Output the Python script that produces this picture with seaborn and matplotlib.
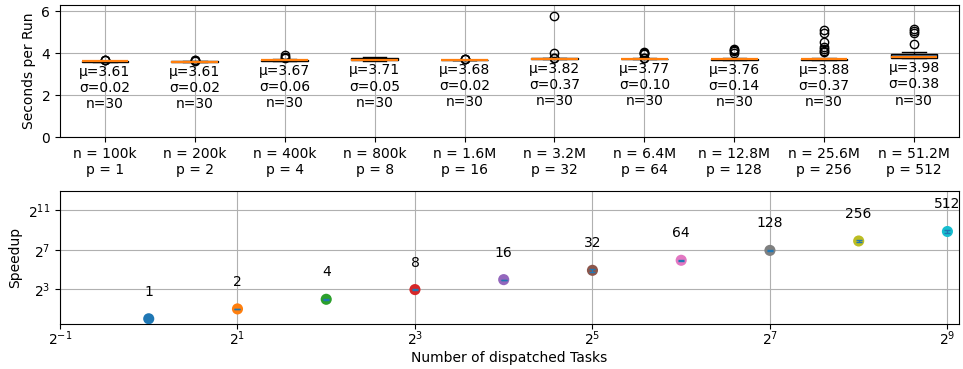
import numpy as np
import pandas as pd
import matplotlib
matplotlib.use("Agg")
import matplotlib.pyplot as plt
import seaborn as sns
from matplotlib.ticker import FixedLocator, LogFormatterMathtext, NullLocator

# Problem size per configuration and number of dispatched tasks
problem_sizes = ["100k", "200k", "400k", "800k", "1.6M", "3.2M", "6.4M", "12.8M", "25.6M", "51.2M"]
tasks = [1, 2, 4, 8, 16, 32, 64, 128, 256, 512]

# Wall-clock seconds for each of the 30 runs per configuration
runs_100k = [3.59, 3.59, 3.59, 3.59, 3.59, 3.60, 3.60, 3.60, 3.60, 3.60,
             3.60, 3.60, 3.60, 3.60, 3.60, 3.61, 3.61, 3.61, 3.61, 3.61,
             3.61, 3.61, 3.61, 3.61, 3.61, 3.62, 3.62, 3.65, 3.66, 3.67]
runs_200k = [3.59, 3.59, 3.59, 3.59, 3.59, 3.60, 3.60, 3.60, 3.60, 3.60,
             3.60, 3.60, 3.60, 3.60, 3.60, 3.60, 3.60, 3.61, 3.61, 3.61,
             3.61, 3.61, 3.61, 3.61, 3.61, 3.62, 3.62, 3.63, 3.66, 3.67]
runs_400k = [3.62, 3.62, 3.62, 3.62, 3.62, 3.62, 3.62, 3.64, 3.64, 3.64,
             3.64, 3.64, 3.64, 3.64, 3.64, 3.66, 3.66, 3.66, 3.66, 3.66,
             3.66, 3.68, 3.68, 3.68, 3.68, 3.70, 3.70, 3.78, 3.82, 3.90]
runs_800k = [3.64, 3.64, 3.64, 3.64, 3.66, 3.66, 3.66, 3.66, 3.66, 3.66,
             3.68, 3.68, 3.68, 3.68, 3.68, 3.68, 3.72, 3.72, 3.72, 3.72,
             3.76, 3.76, 3.76, 3.76, 3.78, 3.78, 3.78, 3.78, 3.80, 3.80]
runs_1_6M = [3.66, 3.66, 3.66, 3.66, 3.66, 3.66, 3.67, 3.67, 3.67, 3.67,
             3.67, 3.67, 3.67, 3.67, 3.67, 3.67, 3.68, 3.68, 3.68, 3.68,
             3.68, 3.68, 3.68, 3.68, 3.69, 3.69, 3.69, 3.70, 3.73, 3.74]
runs_3_2M = [3.71, 3.71, 3.72, 3.72, 3.73, 3.73, 3.73, 3.73, 3.73, 3.74,
             3.74, 3.74, 3.74, 3.74, 3.74, 3.74, 3.74, 3.75, 3.75, 3.75,
             3.75, 3.75, 3.75, 3.76, 3.77, 3.77, 3.79, 3.79, 4.00, 5.79]
runs_6_4M = [3.71, 3.71, 3.72, 3.72, 3.72, 3.72, 3.72, 3.72, 3.72, 3.73,
             3.73, 3.73, 3.73, 3.73, 3.73, 3.73, 3.73, 3.74, 3.74, 3.74,
             3.74, 3.74, 3.74, 3.76, 3.78, 3.78, 3.98, 4.00, 4.02, 4.04]
runs_12_8M = [3.68, 3.68, 3.68, 3.69, 3.69, 3.69, 3.69, 3.69, 3.70, 3.70,
              3.70, 3.70, 3.70, 3.70, 3.71, 3.71, 3.71, 3.71, 3.71, 3.72,
              3.72, 3.72, 3.72, 3.74, 3.74, 3.76, 4.02, 4.08, 4.14, 4.20]
runs_25_6M = [3.68, 3.68, 3.68, 3.69, 3.69, 3.69, 3.69, 3.69, 3.70, 3.70,
              3.70, 3.70, 3.70, 3.70, 3.71, 3.71, 3.71, 3.71, 3.71, 3.72,
              3.72, 3.72, 3.75, 4.06, 4.12, 4.18, 4.28, 4.55, 4.98, 5.08]
runs_51_2M = [3.75, 3.75, 3.77, 3.77, 3.77, 3.77, 3.79, 3.79, 3.79, 3.79,
              3.79, 3.79, 3.81, 3.81, 3.81, 3.82, 3.82, 3.86, 3.86, 3.92,
              3.92, 3.92, 3.94, 3.94, 3.98, 4.07, 4.45, 4.95, 5.05, 5.15]

runs = [runs_100k, runs_200k, runs_400k, runs_800k, runs_1_6M,
        runs_3_2M, runs_6_4M, runs_12_8M, runs_25_6M, runs_51_2M]

config_labels = [f"n = {n}\np = {p}" for n, p in zip(problem_sizes, tasks)]
df = pd.DataFrame({
    "config": np.repeat(config_labels, [len(r) for r in runs]),
    "seconds": np.concatenate(runs),
})

means = [np.mean(r) for r in runs]
stds = [np.std(r) for r in runs]

# Speedup relative to the single-task run, scaled by the number of tasks
speedup = [p * means[0] / m for p, m in zip(tasks, means)]
speedup_err = [s * np.sqrt((stds[0] / means[0]) ** 2 + (sd / m) ** 2)
               for s, sd, m in zip(speedup, stds, means)]

fig = plt.figure(figsize=(9.63, 3.69), dpi=100)
ax1 = fig.add_axes([0.0623, 0.6287, 0.9335, 0.3586])
ax2 = fig.add_axes([0.0623, 0.1228, 0.9335, 0.3604])

# --- run-time distribution per configuration ---
sns.boxplot(
    data=df, x="config", y="seconds", order=config_labels, ax=ax1,
    width=0.52, color="#3b75af", saturation=0.85, linecolor="black", linewidth=1,
    medianprops={"color": "#ff7f0e", "linewidth": 1.6},
    flierprops={"marker": "o", "markerfacecolor": "none",
                "markeredgecolor": "black", "markersize": 6, "markeredgewidth": 1},
)
ax1.set_ylim(0, 6.31)
ax1.set_yticks([0, 2, 4, 6])
ax1.set_xlabel("")
ax1.set_ylabel("Seconds per Run")
ax1.grid(True, color="#b0b0b0", linewidth=0.8)
ax1.set_axisbelow(True)
for i, r in enumerate(runs):
    ax1.annotate(f"μ={means[i]:.2f}\nσ={stds[i]:.2f}\nn={len(r)}",
                 xy=(i, min(r)), xytext=(0, -2), textcoords="offset points",
                 ha="center", va="top", fontsize=10)

# --- speedup against number of tasks ---
sns.scatterplot(x=tasks, y=speedup, hue=[str(p) for p in tasks],
                palette=sns.color_palette("tab10", len(tasks)),
                s=64, linewidth=0, legend=False, ax=ax2, zorder=3)
ax2.errorbar(tasks, speedup, yerr=speedup_err, fmt="none", ecolor="C0",
             capsize=2, elinewidth=1, zorder=4)
ax2.set_xscale("log", base=2)
ax2.set_yscale("log", base=2)
ax2.set_xlim(2.0 ** -1, 2.0 ** 9.13)
ax2.set_ylim(2.0 ** -0.5, 2.0 ** 13)
ax2.xaxis.set_major_locator(FixedLocator([2.0 ** k for k in range(-1, 10, 2)]))
ax2.yaxis.set_major_locator(FixedLocator([2.0 ** k for k in (3, 7, 11)]))
ax2.xaxis.set_major_formatter(LogFormatterMathtext(base=2))
ax2.yaxis.set_major_formatter(LogFormatterMathtext(base=2))
ax2.xaxis.set_minor_locator(NullLocator())
ax2.yaxis.set_minor_locator(NullLocator())
ax2.tick_params(axis="x", pad=0.5)
ax2.grid(True, color="#b0b0b0", linewidth=0.8)
ax2.set_axisbelow(True)
ax2.set_xlabel("Number of dispatched Tasks", labelpad=2)
ax2.set_ylabel("Speedup")
for p, s in zip(tasks, speedup):
    ax2.annotate(str(p), xy=(p, s), xytext=(0, 19.5), textcoords="offset points",
                 ha="center", va="center", fontsize=10)

fig.savefig("out.png", dpi=100)
